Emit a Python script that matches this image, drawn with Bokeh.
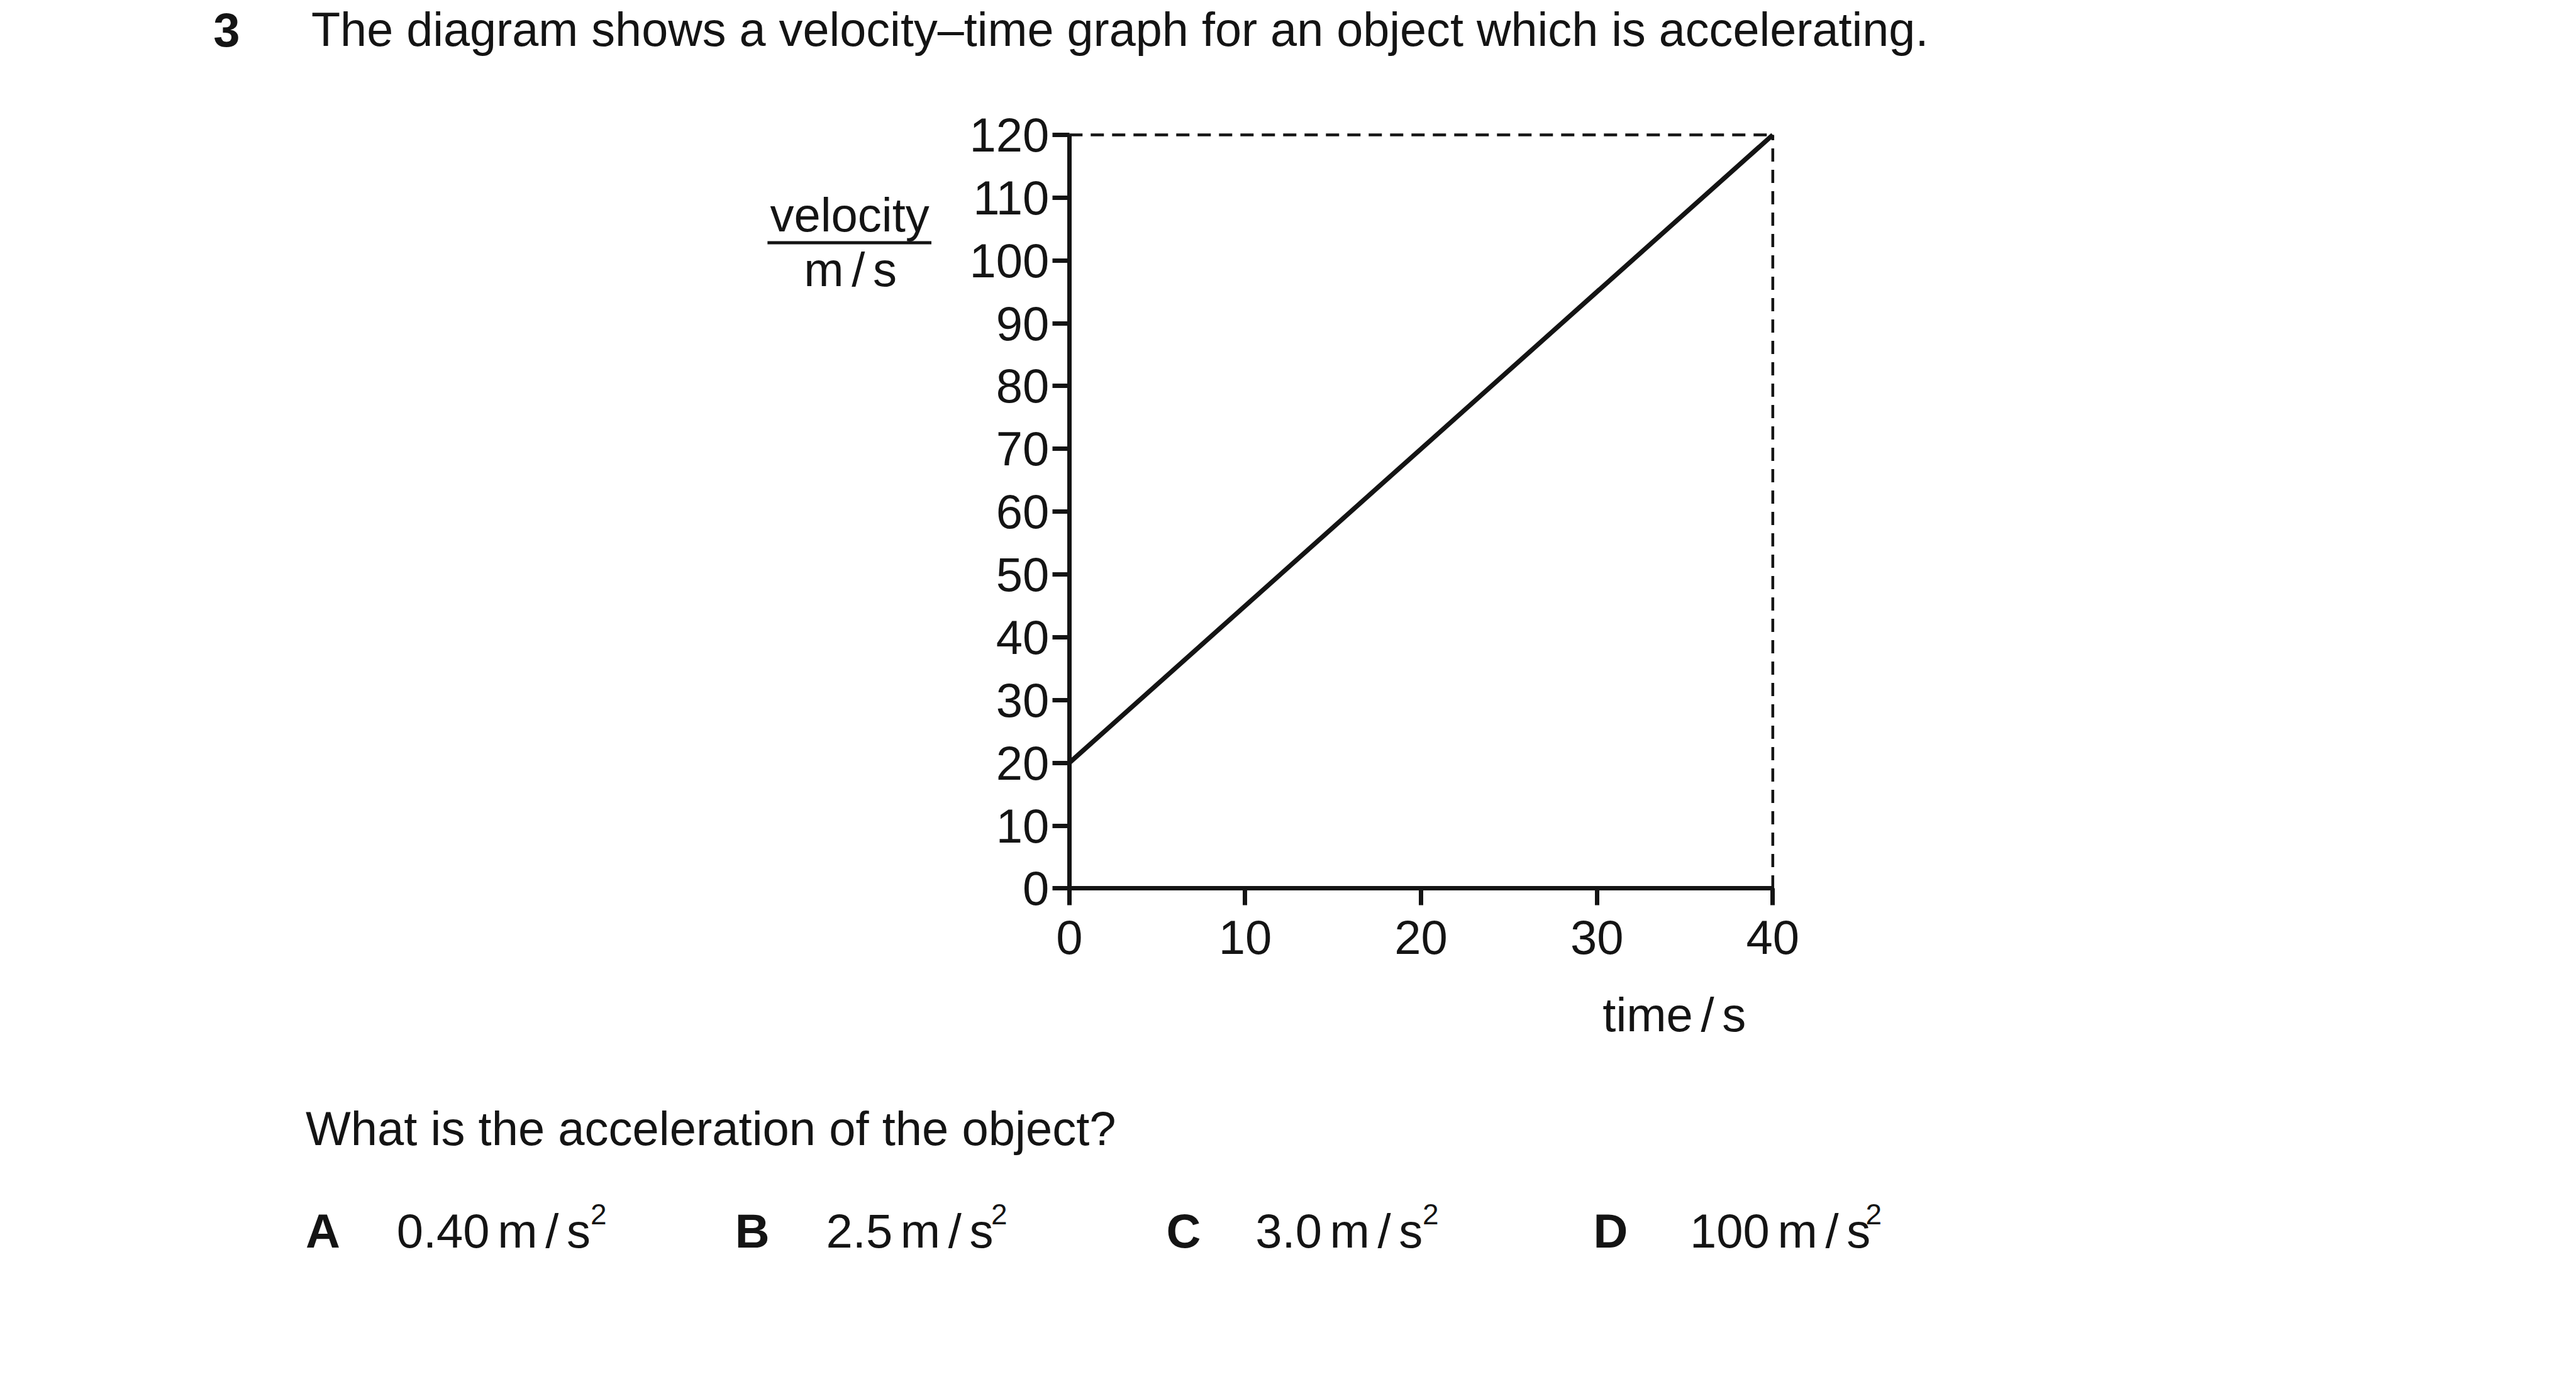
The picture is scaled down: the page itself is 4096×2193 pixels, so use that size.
from bokeh.plotting import figure
from bokeh.models import Range1d, FixedTicker, Label
from bokeh.embed import file_html
from bokeh.resources import INLINE

# ---------------- data ----------------
time_s = [0, 40]
velocity_ms = [20, 120]
x_ticks = [0, 10, 20, 30, 40]
y_ticks = [0, 10, 20, 30, 40, 50, 60, 70, 80, 90, 100, 110, 120]

question_number = "3"
question_text = "The diagram shows a velocity\u2013time graph for an object which is accelerating."
y_label_top = "velocity"
y_label_bottom = "m\u2006/\u2006s"
x_label = "time\u2006/\u2006s"
prompt_text = "What is the acceleration of the object?"
option_letters = ["A", "B", "C", "D"]
option_values = ["0.40", "2.5", "3.0", "100"]
option_unit = "m\u2006/\u2006s"
option_power = "2"

# ---------------- layout ----------------
S = 0.991
W, H = 4080, 2176
INK = "#141414"
FONT = "Liberation Sans"
FS_PX = 76
SUP_PX = 46
BASE_FIX = 0.257   # em: renderer puts the "alphabetic" baseline this much low


def fig_px(ref):
    return ref * S - 8


X0 = fig_px(1723.3)                 # pixel of time = 0
Y0 = fig_px(1433.3)                 # pixel of velocity = 0
KX = (2852.0 - 1723.3) / 40 * S     # pixels per second
KY = (1433.3 - 224.0) / 120 * S     # pixels per m/s


def dx(ref):
    return (fig_px(ref) - X0) / KX


def dy(ref):
    return (Y0 - fig_px(ref)) / KY


p = figure(width=W, height=H, output_backend="svg", toolbar_location=None,
           x_range=Range1d(-X0 / KX, (W - X0) / KX),
           y_range=Range1d(-(H - Y0) / KY, Y0 / KY),
           min_border=0, min_border_left=0, min_border_right=0,
           min_border_top=0, min_border_bottom=0)
p.outline_line_color = None
p.grid.visible = False
p.background_fill_color = "white"
p.border_fill_color = "white"

p.xaxis.ticker = FixedTicker(ticks=x_ticks)
p.yaxis.ticker = FixedTicker(ticks=y_ticks)
p.xaxis.bounds = (min(x_ticks), max(x_ticks))
p.yaxis.bounds = (min(y_ticks), max(y_ticks))
p.xaxis.fixed_location = 0
p.yaxis.fixed_location = 0
for ax in (p.xaxis[0], p.yaxis[0]):
    ax.axis_line_width = 7
    ax.axis_line_color = INK
    ax.major_tick_line_width = 7
    ax.major_tick_line_color = INK
    ax.major_tick_out = 27
    ax.major_tick_in = 0
    ax.minor_tick_out = 0
    ax.minor_tick_in = 0
    ax.major_label_text_font = FONT
    ax.major_label_text_font_size = f"{FS_PX}px"
    ax.major_label_text_color = INK
p.yaxis.major_label_standoff = 5
p.xaxis.major_label_standoff = 24

# dashed guide lines to the final point
p.line([time_s[0], time_s[-1]], [velocity_ms[-1], velocity_ms[-1]],
       line_width=4.5, line_color=INK, line_dash="21 13")
p.line([time_s[-1], time_s[-1]], [0, velocity_ms[-1]],
       line_width=4.5, line_color=INK, line_dash="21 13")
# the velocity-time line
p.line(time_s, velocity_ms, line_width=7.5, line_color=INK)


def lab(text, xr, yr, size=FS_PX, align="left", bold=False):
    y_fixed = yr - BASE_FIX * size / S
    p.add_layout(Label(x=dx(xr), y=dy(y_fixed), text=text, text_font=FONT,
                       text_font_size=f"{size}px", text_color=INK,
                       text_align=align, text_baseline="alphabetic",
                       text_font_style="bold" if bold else "normal"))


lab(question_number, 350, 75, bold=True)
lab(question_text, 507, 75, size=75.6)
lab(y_label_top, 1371, 372, align="center")
lab(y_label_bottom, 1372, 460, align="center")
# fraction bar of the axis label
p.segment(x0=[dx(1239)], y0=[dy(397)], x1=[dx(1502)], y1=[dy(397)],
          line_width=5, line_color=INK)
lab(x_label, 2579, 1655)
lab(prompt_text, 498, 1838)

letter_x = [498, 1187, 1879, 2564]
value_x = [644, 1333, 2022, 2719]
sup_x = [955, 1598, 2290, 3001]
for L, v, lx, vx, sx in zip(option_letters, option_values, letter_x, value_x, sup_x):
    lab(L, lx, 2003, bold=True)
    lab(v + "\u2006" + option_unit, vx, 2003)
    lab(option_power, sx, 1968, size=SUP_PX)

open("out.html", "w").write(file_html(p, INLINE))
